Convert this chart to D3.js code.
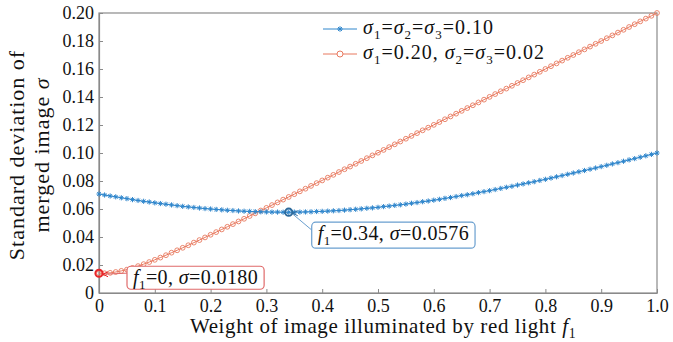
<!DOCTYPE html>
<html>
<head>
<meta charset="utf-8">
<script src="https://cdn.jsdelivr.net/npm/d3@7"></script>
<style>
body { margin: 0; background: #fff; }
</style>
</head>
<body>
<svg></svg>
<script>
var screen = {width: 673, height: 342}
var margins = {top: 13, right: 16, bottom: 49, left: 99}
var fontStack = "'Liberation Serif', 'DejaVu Serif', 'Noto Serif', 'Times New Roman', serif"

// weight of red light f1
var fWeights = [0,0.01,0.02,0.03,0.04,0.05,0.06,0.07,0.08,0.09,
    0.10,0.11,0.12,0.13,0.14,0.15,0.16,0.17,0.18,0.19,
    0.20,0.21,0.22,0.23,0.24,0.25,0.26,0.27,0.28,0.29,
    0.30,0.31,0.32,0.33,0.34,0.35,0.36,0.37,0.38,0.39,
    0.40,0.41,0.42,0.43,0.44,0.45,0.46,0.47,0.48,0.49,
    0.50,0.51,0.52,0.53,0.54,0.55,0.56,0.57,0.58,0.59,
    0.60,0.61,0.62,0.63,0.64,0.65,0.66,0.67,0.68,0.69,
    0.70,0.71,0.72,0.73,0.74,0.75,0.76,0.77,0.78,0.79,
    0.80,0.81,0.82,0.83,0.84,0.85,0.86,0.87,0.88,0.89,
    0.90,0.91,0.92,0.93,0.94,0.95,0.96,0.97,0.98,0.99,
    1.00]

// sigma1=sigma2=sigma3=0.10
var blueSigma = [0.0707,0.0700,0.0693,0.0687,0.0680,0.0674,0.0667,0.0661,0.0655,0.0650,
    0.0644,0.0639,0.0634,0.0629,0.0624,0.0619,0.0615,0.0611,0.0607,0.0603,
    0.0600,0.0597,0.0594,0.0591,0.0589,0.0586,0.0584,0.0583,0.0581,0.0580,
    0.0579,0.0578,0.0578,0.0577,0.0577,0.0578,0.0578,0.0579,0.0580,0.0582,
    0.0583,0.0585,0.0587,0.0589,0.0592,0.0595,0.0598,0.0601,0.0605,0.0608,
    0.0612,0.0617,0.0621,0.0626,0.0630,0.0635,0.0641,0.0646,0.0652,0.0657,
    0.0663,0.0669,0.0676,0.0682,0.0689,0.0696,0.0702,0.0709,0.0717,0.0724,
    0.0731,0.0739,0.0747,0.0755,0.0762,0.0771,0.0779,0.0787,0.0795,0.0804,
    0.0812,0.0821,0.0830,0.0839,0.0848,0.0857,0.0866,0.0875,0.0884,0.0893,
    0.0903,0.0912,0.0922,0.0931,0.0941,0.0951,0.0960,0.0970,0.0980,0.0990,
    0.1000]

// sigma1=0.20, sigma2=sigma3=0.02
var redSigma = [0.0141,0.0141,0.0144,0.0150,0.0158,0.0167,0.0179,0.0192,0.0206,0.0221,
    0.0237,0.0253,0.0270,0.0288,0.0305,0.0323,0.0341,0.0360,0.0378,0.0397,
    0.0416,0.0435,0.0454,0.0473,0.0492,0.0511,0.0530,0.0550,0.0569,0.0589,
    0.0608,0.0628,0.0647,0.0667,0.0686,0.0706,0.0726,0.0745,0.0765,0.0785,
    0.0804,0.0824,0.0844,0.0864,0.0884,0.0903,0.0923,0.0943,0.0963,0.0983,
    0.1002,0.1022,0.1042,0.1062,0.1082,0.1102,0.1122,0.1142,0.1162,0.1181,
    0.1201,0.1221,0.1241,0.1261,0.1281,0.1301,0.1321,0.1341,0.1361,0.1381,
    0.1401,0.1421,0.1441,0.1460,0.1480,0.1500,0.1520,0.1540,0.1560,0.1580,
    0.1600,0.1620,0.1640,0.1660,0.1680,0.1700,0.1720,0.1740,0.1760,0.1780,
    0.1800,0.1820,0.1840,0.1860,0.1880,0.1900,0.1920,0.1940,0.1960,0.1980,
    0.2000]

var xTicks = [0,0.1,0.2,0.3,0.4,0.5,0.6,0.7,0.8,0.9,1.0]
var xTickLabels = ["0","0.1","0.2","0.3","0.4","0.5","0.6","0.7","0.8","0.9","1.0"]
var yTicks = [0,0.02,0.04,0.06,0.08,0.10,0.12,0.14,0.16,0.18,0.20]
var yTickLabels = ["0","0.02","0.04","0.06","0.08","0.10","0.12","0.14","0.16","0.18","0.20"]

// legend entries, pieces: i = italic, sub = subscript
var legendBlue = [{t:"σ",i:1},{t:"1",sub:1},{t:"="},{t:"σ",i:1},{t:"2",sub:1},{t:"="},{t:"σ",i:1},{t:"3",sub:1},{t:"=0.10"}]
var legendRed = [{t:"σ",i:1},{t:"1",sub:1},{t:"=0.20, "},{t:"σ",i:1},{t:"2",sub:1},{t:"="},{t:"σ",i:1},{t:"3",sub:1},{t:"=0.02"}]

// data tips
var tipBlue = {f: 0.34, s: 0.0577, text: [{t:"f",i:1},{t:"1",sub:1},{t:"=0.34, "},{t:"σ",i:1},{t:"=0.0576"}]}
var tipRed = {f: 0, s: 0.0141, text: [{t:"f",i:1},{t:"1",sub:1},{t:"=0, "},{t:"σ",i:1},{t:"=0.0180"}]}

var blueColor = "#2f86cc"
var redColor = "#e8795f"
var axisColor = "#8a8a8a"

var width = screen.width - margins.left - margins.right
var height = screen.height - margins.top - margins.bottom

var svg = d3.select("svg")
    .attr("width", screen.width)
    .attr("height", screen.height)

var xScale = d3.scaleLinear().domain([0, 1]).range([0, width])
var yScale = d3.scaleLinear().domain([0, 0.2]).range([height, 0])

var graph = svg.append("g")
    .attr("id", "graph")
    .attr("transform", "translate(" + margins.left + "," + margins.top + ")")

// rich text helper (italic + subscript)
var richText = function(textSel, parts, size)
{
    var shifted = false
    parts.forEach(function(p)
    {
        var ts = textSel.append("tspan").text(p.t)
        if (p.i) ts.style("font-style", "italic")
        if (p.sub) {
            ts.attr("font-size", size * 0.65).attr("dy", size * 0.25)
            shifted = true
        } else if (shifted) {
            ts.attr("dy", -size * 0.25)
            shifted = false
        }
    })
}

// frame
graph.append("rect")
    .attr("width", width)
    .attr("height", height)
    .attr("fill", "none")
    .attr("stroke", axisColor)
    .attr("stroke-width", 1.2)

var xAxis = d3.axisBottom(xScale)
    .tickValues(xTicks)
    .tickFormat(function(d, i) { return xTickLabels[i] })
    .tickSizeInner(-4)
    .tickSizeOuter(0)
    .tickPadding(6)

var yAxis = d3.axisLeft(yScale)
    .tickValues(yTicks)
    .tickFormat(function(d, i) { return yTickLabels[i] })
    .tickSizeInner(-4)
    .tickSizeOuter(0)
    .tickPadding(5)

var gx = graph.append("g")
    .attr("transform", "translate(0," + height + ")")
    .call(xAxis)
var gy = graph.append("g").call(yAxis)

graph.selectAll(".domain").attr("stroke", axisColor).attr("stroke-width", 1.2)
graph.selectAll(".tick line").attr("stroke", axisColor)
graph.selectAll(".tick text")
    .attr("font-size", 18)
    .attr("fill", "#111")

// axis titles
var xt = svg.append("text")
    .attr("x", 383)
    .attr("y", 333)
    .attr("text-anchor", "middle")
    .attr("font-size", 21)
    .attr("letter-spacing", 0.6)
richText(xt, [{t:"Weight of image illuminated by red light "},{t:"f",i:1},{t:"1",sub:1}], 21)

var yt = svg.append("g")
    .attr("transform", "translate(24,155) rotate(-90)")
yt.append("text")
    .attr("text-anchor", "middle")
    .attr("font-size", 22)
    .attr("letter-spacing", 1)
    .text("Standard deviation of")
var yt2 = yt.append("text")
    .attr("y", 25)
    .attr("text-anchor", "middle")
    .attr("font-size", 22)
    .attr("letter-spacing", 1)
richText(yt2, [{t:"merged image "},{t:"σ",i:1}], 22)

// series
var blueData = fWeights.map(function(f, i) { return {f: f, s: blueSigma[i]} })
var redData = fWeights.map(function(f, i) { return {f: f, s: redSigma[i]} })

var lineGenerator = d3.line()
    .x(function(d) { return xScale(d.f) })
    .y(function(d) { return yScale(d.s) })

graph.append("path")
    .datum(redData)
    .attr("d", lineGenerator)
    .attr("fill", "none")
    .attr("stroke", redColor)
    .attr("stroke-width", 1)

graph.append("g")
    .selectAll("circle")
    .data(redData)
    .enter()
    .append("circle")
    .attr("cx", function(d) { return xScale(d.f) })
    .attr("cy", function(d) { return yScale(d.s) })
    .attr("r", 2.4)
    .attr("fill", "none")
    .attr("stroke", redColor)
    .attr("stroke-width", 0.9)

graph.append("path")
    .datum(blueData)
    .attr("d", lineGenerator)
    .attr("fill", "none")
    .attr("stroke", blueColor)
    .attr("stroke-width", 1)

var star = function(r)
{
    var d = r * 0.7071
    return "M" + (-r) + ",0H" + r + "M0," + (-r) + "V" + r +
        "M" + (-d) + "," + (-d) + "L" + d + "," + d +
        "M" + (-d) + "," + d + "L" + d + "," + (-d)
}

graph.append("g")
    .selectAll("path")
    .data(blueData)
    .enter()
    .append("path")
    .attr("transform", function(d) { return "translate(" + xScale(d.f) + "," + yScale(d.s) + ")" })
    .attr("d", star(2.6))
    .attr("stroke", blueColor)
    .attr("stroke-width", 1)

// legend
var legend = svg.append("g").attr("id", "legend")
var drawLegendRow = function(y, color, parts, isStar)
{
    legend.append("line")
        .attr("x1", 323).attr("x2", 357)
        .attr("y1", y).attr("y2", y)
        .attr("stroke", color).attr("stroke-width", 1)
    if (isStar) {
        legend.append("path")
            .attr("transform", "translate(340," + y + ")")
            .attr("d", star(2.8))
            .attr("stroke", color)
    } else {
        legend.append("circle")
            .attr("cx", 340).attr("cy", y).attr("r", 3)
            .attr("fill", "#fff").attr("stroke", color)
    }
    var t = legend.append("text")
        .attr("x", 363)
        .attr("y", y + 5)
        .attr("font-size", 20)
        .attr("letter-spacing", 1)
    richText(t, parts, 20)
}
drawLegendRow(29, blueColor, legendBlue, true)
drawLegendRow(54, redColor, legendRed, false)

// data tips
var drawTip = function(tip, color, edge, dx, dy, bh)
{
    var px = xScale(tip.f)
    var py = yScale(tip.s)
    var g = graph.append("g")
    var t = g.append("text")
        .attr("x", px + dx)
        .attr("y", py + dy)
        .attr("font-size", 20)
        .attr("letter-spacing", 0.4)
        .style("font-family", fontStack)
    richText(t, tip.text, 20)
    var bb = t.node().getBBox()
    var bx = bb.x - 6, by = py + dy - 18, bw = bb.width + 12
    g.append("line")
        .attr("x1", px + 3).attr("y1", py + 1)
        .attr("x2", bx).attr("y2", by + bh * 0.3)
        .attr("stroke", edge).attr("stroke-width", 1)
    // small arrow head at the marker
    g.append("path")
        .attr("d", "M" + (px + 9) + "," + (py - 1.5) + "L" + (px + 4) + "," + (py + 1) + "L" + (px + 9) + "," + (py + 3.5))
        .attr("fill", "none")
        .attr("stroke", color)
        .attr("stroke-width", 1)
    g.insert("rect", "text")
        .attr("x", bx).attr("y", by)
        .attr("width", bw).attr("height", bh)
        .attr("rx", 4)
        .attr("fill", "#fff")
        .attr("stroke", edge)
        .attr("stroke-width", 1.2)
    g.append("circle")
        .attr("cx", px).attr("cy", py).attr("r", 3.6)
        .attr("fill", "none")
        .attr("stroke", color)
        .attr("stroke-width", 2)
}
drawTip(tipBlue, "#2d6a9c", "#6a9fcf", 29, 28, 26)
drawTip(tipRed, "#e8262a", "#e06a6a", 34, 11, 23)

// one font for every text
svg.selectAll("text").style("font-family", fontStack).style("fill", "#111")
</script>
</body>
</html>
